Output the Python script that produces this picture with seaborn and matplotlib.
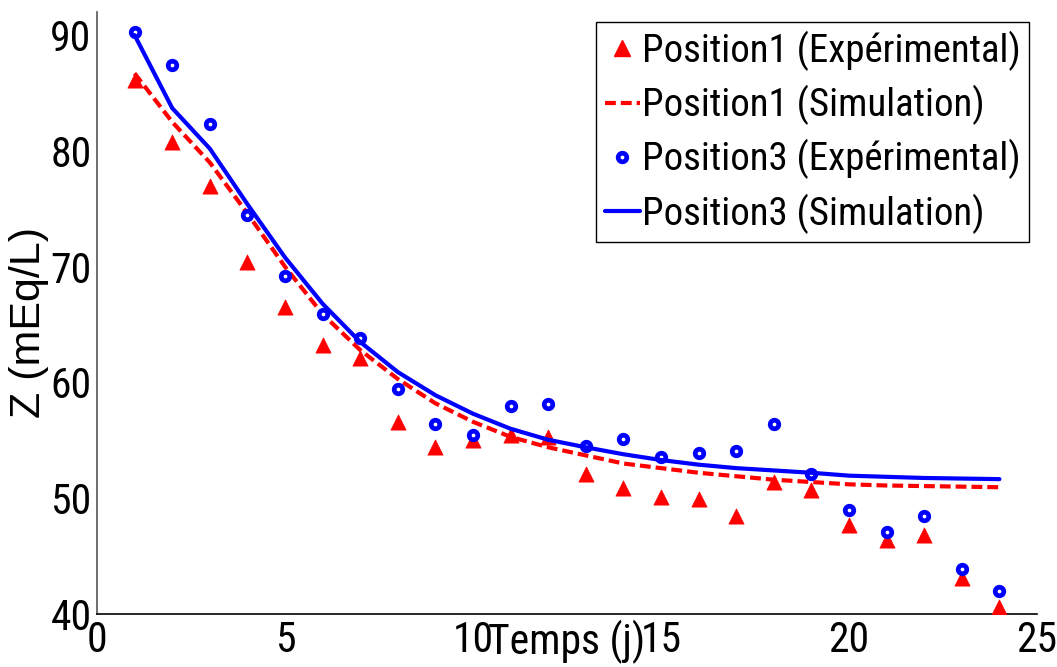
import pandas as pd
import matplotlib
matplotlib.use("Agg")
import matplotlib.pyplot as plt
from matplotlib import font_manager
from matplotlib.lines import Line2D
import seaborn as sns

# Sampling days
days = list(range(1, 25))

# Position 1: measured and simulated Z (mEq/L)
pos1_exp = [86.1, 80.8, 77.0, 70.4, 66.5, 63.2, 62.1, 56.6, 54.4, 55.0, 55.5, 55.3,
            52.1, 50.9, 50.1, 49.9, 48.5, 51.4, 50.7, 47.7, 46.4, 46.8, 43.1, 40.6]
pos1_sim = [86.7, 82.5, 79.0, 74.6, 70.0, 65.9, 62.8, 60.3, 58.2, 56.6, 55.3, 54.4,
            53.7, 53.0, 52.6, 52.2, 51.9, 51.6, 51.4, 51.2, 51.1, 51.05, 51.0, 50.95]

# Position 3: measured and simulated Z (mEq/L)
pos3_exp = [90.3, 87.4, 82.3, 74.5, 69.2, 65.9, 63.8, 59.4, 56.4, 55.5, 58.0, 58.1,
            54.5, 55.1, 53.6, 53.9, 54.1, 56.4, 52.1, 49.0, 47.1, 48.5, 43.9, 42.0]
pos3_sim = [90.0, 83.7, 80.2, 75.4, 70.8, 66.8, 63.5, 60.9, 58.9, 57.3, 56.0, 55.05,
            54.4, 53.8, 53.3, 52.9, 52.6, 52.4, 52.2, 51.95, 51.85, 51.75, 51.7, 51.65]

labels = ["Position1 (Expérimental)", "Position1 (Simulation)",
          "Position3 (Expérimental)", "Position3 (Simulation)"]
x_ticks = [0, 5, 10, 15, 20, 25]
y_ticks = [40, 50, 60, 70, 80, 90]

sns.set_style("white")
available = {f.name for f in font_manager.fontManager.ttflist}
narrow = next((n for n in ("Roboto Condensed", "Liberation Sans Narrow", "Arial Narrow")
               if n in available), "Liberation Sans")
narrow_fam = [narrow, "DejaVu Sans"]
plt.rcParams["font.family"] = narrow_fam
for key in ("text.color", "axes.labelcolor", "xtick.labelcolor", "ytick.labelcolor"):
    plt.rcParams[key] = "black"

df = pd.DataFrame({"t": days, "p1e": pos1_exp, "p1s": pos1_sim,
                   "p3e": pos3_exp, "p3s": pos3_sim})

fig = plt.figure(figsize=(10.57, 6.67), dpi=100)
ax = fig.add_axes([97 / 1057, 53 / 667, 940 / 1057, 602 / 667])

red, blue = "#ff0000", "#0000ff"
dash = (2.6, 1.2)
sns.scatterplot(data=df, x="t", y="p1e", ax=ax, marker="^", s=120,
                color=red, edgecolor=red, linewidth=0.5, zorder=3)
sns.lineplot(data=df, x="t", y="p1s", ax=ax, color=red, linewidth=3.0, zorder=3)
ax.lines[-1].set_dashes(dash)
sns.scatterplot(data=df, x="t", y="p3e", ax=ax, marker="o", s=38,
                color="white", edgecolor=blue, linewidth=3.4, zorder=4)
sns.lineplot(data=df, x="t", y="p3s", ax=ax, color=blue, linewidth=3.0, zorder=4)

ax.set_xlim(0, 25)
ax.set_ylim(40, 92)
ax.set_xticks(x_ticks)
ax.set_yticks(y_ticks)
ax.set_xticklabels([str(v) for v in x_ticks])
ax.set_yticklabels([str(v) for v in y_ticks])

for side in ("top", "right"):
    ax.spines[side].set_visible(False)
ax.spines["left"].set_color("#555555")
ax.spines["left"].set_linewidth(1.2)
ax.spines["bottom"].set_color("black")
ax.spines["bottom"].set_linewidth(1.2)
ax.tick_params(axis="both", direction="in", length=7, width=1.0,
               color="#333333", labelcolor="black", labelsize=30, pad=4)
for lab in ax.get_xticklabels() + ax.get_yticklabels():
    lab.set_family(narrow_fam)

ax.set_xlabel("Temps (j)", fontsize=30, family=narrow_fam, color="black")
ax.xaxis.set_label_coords(0.5, -0.01)
ax.set_ylabel("Z (mEq/L)", fontsize=31, family=["Liberation Sans", "DejaVu Sans"],
              color="black")
ax.yaxis.set_label_coords(-0.051, 0.485)

handles = [
    Line2D([], [], linestyle="none", marker="^", markersize=11,
           markerfacecolor=red, markeredgecolor=red),
    Line2D([], [], color=red, linewidth=3.0, dashes=dash),
    Line2D([], [], linestyle="none", marker="o", markersize=6.2,
           markerfacecolor="white", markeredgecolor=blue, markeredgewidth=3.4),
    Line2D([], [], color=blue, linewidth=3.0),
]
leg = ax.legend(handles, labels, loc="upper right",
                bbox_to_anchor=(1029 / 1057, 645 / 667), bbox_transform=fig.transFigure,
                borderaxespad=0, frameon=True, fancybox=False, framealpha=1,
                edgecolor="black", handlelength=0.9, handletextpad=0.05,
                borderpad=0.22, labelspacing=0.36,
                prop={"family": narrow_fam, "size": 28})
leg.get_frame().set_linewidth(1.0)
for txt in leg.get_texts():
    txt.set_color("black")

fig.savefig("out.png", dpi=100)
